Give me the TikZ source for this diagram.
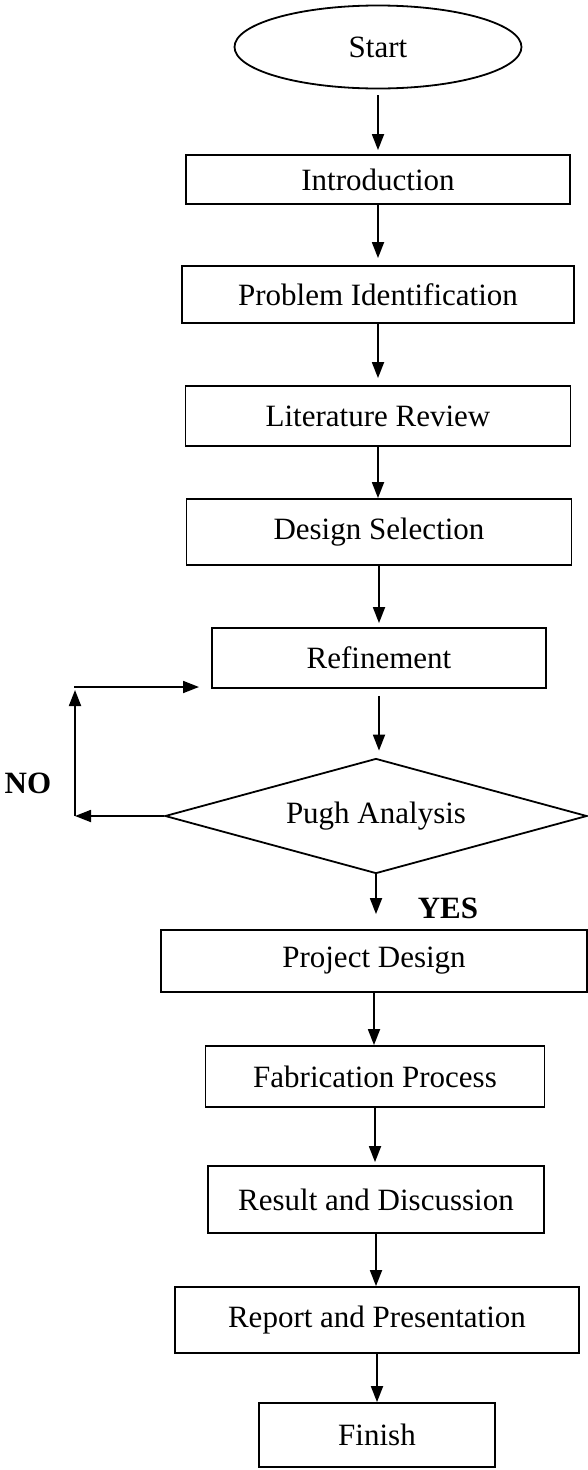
\documentclass[tikz,border=0pt]{standalone}
\usepackage{fontspec}
\setmainfont{Liberation Serif}
\usetikzlibrary{shapes.geometric,arrows.meta}
\begin{document}
\begin{tikzpicture}[x=1pt,y=-1pt,
  box/.style={draw,line width=1.8pt,rectangle,inner sep=0pt,font=\fontsize{31}{37}\selectfont},
  arr/.style={line width=1.8pt,-{Triangle[length=16pt,width=12pt]}},
  lbl/.style={font=\fontsize{31}{37}\selectfont\bfseries,inner sep=0pt}]
\fill[white] (0,0) rectangle (587,1470);
\useasboundingbox (0,0) rectangle (587,1470);

\node[box,ellipse,minimum width=287pt,minimum height=83pt] (start) at (378,47) {Start};
\node[box,minimum width=384pt,minimum height=49pt] (intro) at (378,179.5) {Introduction};
\node[box,minimum width=392pt,minimum height=57pt] (probid) at (378,294.5) {Problem Identification};
\node[box,minimum width=385pt,minimum height=60pt] (lit) at (378,416) {Literature Review};
\node[box,minimum width=385pt,minimum height=66pt] (design) at (379,532) {Design Selection};
\node[box,minimum width=334pt,minimum height=60pt] (refine) at (379,658) {Refinement};
\node[box,diamond,aspect=3.67,minimum width=422pt,minimum height=115pt] (pugh) at (376,816) {Pugh Analysis};
\node[box,minimum width=426pt,minimum height=62pt] (project) at (374,961) {Project Design};
\node[box,minimum width=339pt,minimum height=61pt] (fab) at (375,1076.5) {Fabrication Process};
\node[box,minimum width=336pt,minimum height=67pt] (result) at (376,1199.5) {Result and Discussion};
\node[box,minimum width=404pt,minimum height=66pt] (report) at (377,1320) {Report and Presentation};
\node[box,minimum width=236pt,minimum height=64pt] (finish) at (377,1435) {Finish};

\node[lbl] (no) at (28,783) {NO};
\node[lbl] (yes) at (448,908) {YES};

\coordinate (nocorner) at (75,816);
\coordinate (fbtop) at (75,690);
\coordinate (fbstart) at (74,687);
\coordinate (fbend) at (199,687);

\draw[arr,shorten <=6pt,shorten >=4pt] (start.south) -- (start.south |- intro.north);
\draw[arr,shorten >=7pt] (intro.south) -- (intro.south |- probid.north);
\draw[arr,shorten >=7pt] (probid.south) -- (probid.south |- lit.north);
\draw[arr] (lit.south) -- (lit.south |- design.north);
\draw[arr,shorten >=4pt] (design.south) -- (design.south |- refine.north);
\draw[arr,shorten <=7pt,shorten >=7pt] (refine.south) -- (refine.south |- pugh.north);
\draw[arr,shorten >=15pt] (pugh.south) -- (pugh.south |- project.north);
\draw[arr] (project.south) -- (project.south |- fab.north);
\draw[arr,shorten >=3pt] (fab.south) -- (fab.south |- result.north);
\draw[arr] (result.south) -- (result.south |- report.north);
\draw[arr] (report.south) -- (report.south |- finish.north);

\draw[arr] (pugh.west) -- (nocorner);
\draw[arr] (nocorner) -- (fbtop);
\draw[arr] (fbstart) -- (fbend);
\end{tikzpicture}
\end{document}
